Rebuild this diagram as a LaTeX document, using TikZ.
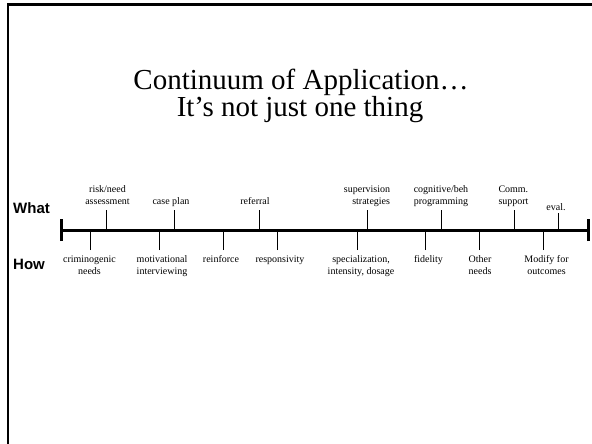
\documentclass[tikz,border=0pt]{standalone}
\usepackage{fontspec}
\setmainfont{Liberation Serif}
\newfontfamily\hsans{Liberation Sans}
\begin{document}
\begin{tikzpicture}[x=1pt,y=-1pt,
  lbl/.style={font=\fontsize{10}{12}\selectfont, align=center, inner sep=0pt, anchor=base},
  side/.style={font=\hsans\bfseries\fontsize{15}{17}\selectfont, inner sep=0pt, anchor=base west},
  ttl/.style={font=\fontsize{29}{27}\selectfont, inner sep=0pt, anchor=base},
  tickline/.style={line width=1pt},
  axis/.style={line width=3pt},
  frame/.style={line width=2.4pt}]
\useasboundingbox (0,0) rectangle (592,444);
% frame
\coordinate (f0) at (8,444);
\coordinate (f1) at (8,4.5);
\coordinate (f2) at (592,4.5);
\draw[frame] (f0) -- (f1) -- (f2);
% title
\node[ttl] (t1) at (301,90) {Continuum of Application…};
\node[ttl] (t2) at (300,117) {It’s not just one thing};
% side labels
\node[side] (what) at (13,213) {What};
\node[side] (how) at (13,269) {How};
% axis
\coordinate (L) at (61,230);
\coordinate (R) at (588,230);
\draw[axis] (L) -- (R);
\draw[axis] ([yshift=-11pt]L) -- ([yshift=11pt]L);
\draw[axis] ([yshift=-11pt]R) -- ([yshift=11pt]R);
% top labels (base anchor = last line's baseline)
\node[lbl] (a1) at (107.5,204.5) {risk/need\\assessment};
\node[lbl] (a2) at (171,204.5) {case plan};
\node[lbl] (a3) at (255,204.5) {referral};
\node[lbl, align=right] (a4) at (367,204.5) {supervision\\strategies};
\node[lbl] (a5) at (441,204.5) {cognitive/beh\\programming};
\node[lbl, align=left] (a6) at (513.5,204.5) {Comm.\\support};
\node[lbl] (a7) at (556,210) {eval.};
% top ticks
\foreach \n/\x/\y in {p1/106/210, p2/174/210, p3/259/210, p4/367/210, p5/441/210, p6/514/210, p7/558/213}{
  \coordinate (\n) at (\x,\y);
  \draw[tickline] (\n) -- (\n |- L);
}
% bottom labels
\node[lbl] (b1) at (89.5,274.5) {criminogenic\\needs};
\node[lbl] (b2) at (162,274.5) {motivational\\interviewing};
\node[lbl] (b3) at (221,262.5) {reinforce};
\node[lbl] (b4) at (280,262.5) {responsivity};
\node[lbl] (b5) at (361,274.5) {specialization,\\intensity, dosage};
\node[lbl] (b6) at (428.5,262.5) {fidelity};
\node[lbl] (b7) at (480,274.5) {Other\\needs};
\node[lbl] (b8) at (546.5,274.5) {Modify for\\outcomes};
% bottom ticks
\foreach \n/\x in {q1/90, q2/159, q3/223, q4/277, q5/357, q6/425, q7/479, q8/543}{
  \coordinate (\n) at (\x,250);
  \draw[tickline] (\n) -- (\n |- L);
}
\end{tikzpicture}
\end{document}
